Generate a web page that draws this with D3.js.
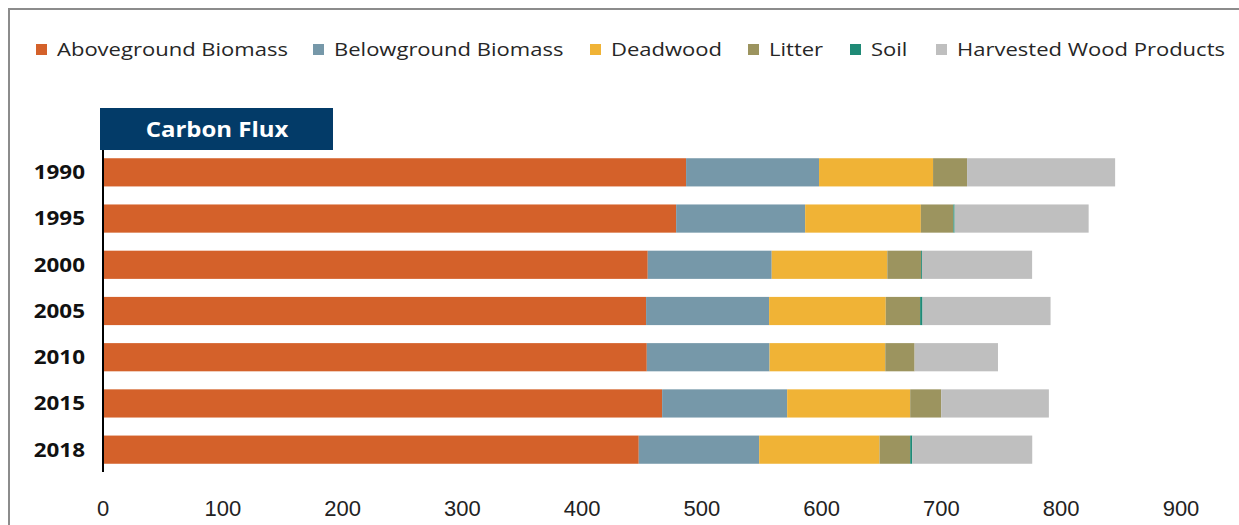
<!DOCTYPE html>
<html><head>
<meta charset="utf-8">
<title>Carbon Flux</title>
<script src="https://d3js.org/d3.v7.min.js"></script>
<style>
  body { margin: 0; background: #fff; }
  svg { display: block; }
</style>
</head>
<body>
<svg id="chart" width="1239" height="525"></svg>
<script>
// data (carbon flux by pool, per year)
const years = ["1990", "1995", "2000", "2005", "2010", "2015", "2018"];
const pools = ["Aboveground Biomass", "Belowground Biomass", "Deadwood", "Litter", "Soil", "Harvested Wood Products"];
const poolColors = ["#d4612a", "#7698a9", "#f0b336", "#9c945f", "#1f8a76", "#bfbfbf"];
const aboveground = [486.8, 478.5, 454.8, 453.4, 454.0, 466.8, 447.3];
const belowground = [111.0, 107.7, 103.5, 102.7, 102.5, 104.4, 100.5];
const deadwood    = [95.2, 96.6, 96.5, 97.4, 96.6, 102.7, 100.5];
const litter      = [28.4, 27.2, 28.1, 28.7, 24.5, 25.9, 25.6];
const soil        = [0.0, 1.0, 0.8, 2.0, 0.0, 0.0, 1.7];
const harvested   = [123.6, 111.9, 92.0, 106.9, 69.6, 89.9, 100.2];
const xTicks = [0, 100, 200, 300, 400, 500, 600, 700, 800, 900];

const series = [aboveground, belowground, deadwood, litter, soil, harvested];
const rows = years.map((y, i) => {
  const r = { year: y };
  pools.forEach((p, j) => r[p] = series[j][i]);
  return r;
});

const svg = d3.select("#chart");

// the source picture is a bit stretched sideways, so text gets a horizontal scale
function place(x, y, sx) {
  return "translate(" + x + "," + y + ") scale(" + sx + ",1)";
}

// frame of the chart area (only top and left edges show in the crop)
svg.append("path")
   .attr("d", "M9,525 V9 H1239")
   .attr("fill", "none")
   .attr("stroke", "#8c8c8c")
   .attr("stroke-width", 2);

const x = d3.scaleLinear().domain([0, 900]).range([103, 1181]);
const y = d3.scaleBand().domain(years).range([149, 473]).paddingInner(0.39).paddingOuter(0.2);
const color = d3.scaleOrdinal().domain(pools).range(poolColors);

const stacked = d3.stack().keys(pools)(rows);

svg.append("g").selectAll("g")
   .data(stacked)
   .join("g")
   .attr("fill", d => color(d.key))
   .selectAll("rect")
   .data(d => d)
   .join("rect")
   .attr("x", d => x(d[0]))
   .attr("y", d => y(d.data.year))
   .attr("width", d => Math.max(0, x(d[1]) - x(d[0])))
   .attr("height", y.bandwidth());

// vertical axis line
svg.append("line")
   .attr("x1", x(0)).attr("x2", x(0))
   .attr("y1", 150).attr("y2", 472)
   .attr("stroke", "#000").attr("stroke-width", 2);

// year labels
svg.append("g").selectAll("text")
   .data(years)
   .join("text")
   .attr("transform", d => place(85, y(d) + y.bandwidth() / 2, 1.18))
   .attr("dy", "0.36em")
   .attr("text-anchor", "end")
   .style("font-family", "'Open Sans', sans-serif")
   .style("font-weight", "700")
   .style("font-size", "19px")
   .attr("fill", "#111")
   .text(d => d);

// bottom tick labels
svg.append("g").selectAll("text")
   .data(xTicks)
   .join("text")
   .attr("x", d => x(d))
   .attr("y", 516)
   .attr("text-anchor", "middle")
   .style("font-family", "'Liberation Sans', Arial, sans-serif")
   .style("font-size", "22px")
   .attr("fill", "#222")
   .text(d => d);

// title box
svg.append("rect")
   .attr("x", 100).attr("y", 108)
   .attr("width", 233).attr("height", 42)
   .attr("fill", "#033b68");
svg.append("text")
   .attr("transform", place(217, 137, 1.09))
   .attr("text-anchor", "middle")
   .style("font-family", "'Open Sans', sans-serif")
   .style("font-weight", "700")
   .style("font-size", "22px")
   .attr("fill", "#fff")
   .text("Carbon Flux");

// legend
const legendX = [57, 334, 611, 769, 871, 957];
const legend = svg.append("g").selectAll("g")
   .data(pools)
   .join("g")
   .attr("transform", (d, i) => "translate(" + legendX[i] + ",0)");
legend.append("rect")
   .attr("x", -21).attr("y", 44)
   .attr("width", 11).attr("height", 11)
   .attr("fill", d => color(d));
legend.append("text")
   .attr("transform", place(0, 56, 1.19))
   .style("font-family", "'Open Sans', sans-serif")
   .style("font-size", "18.5px")
   .attr("fill", "#262626")
   .text(d => d);
</script>
</body>
</html>
